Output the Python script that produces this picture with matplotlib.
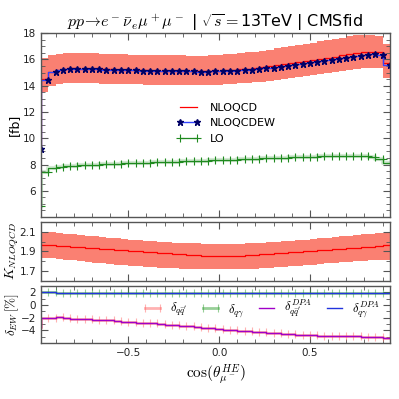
import matplotlib
matplotlib.use("Agg")
import matplotlib.pyplot as plt
from matplotlib.ticker import MultipleLocator

plt.rcParams["mathtext.fontset"] = "cm"
plt.rcParams["font.family"] = "DejaVu Sans"

# bin edges of cos(theta), step width 0.04
cos_theta = [-0.98, -0.94, -0.90, -0.86, -0.82, -0.78, -0.74, -0.70, -0.66, -0.62,
             -0.58, -0.54, -0.50, -0.46, -0.42, -0.38, -0.34, -0.30, -0.26, -0.22,
             -0.18, -0.14, -0.10, -0.06, -0.02, 0.02, 0.06, 0.10, 0.14, 0.18,
             0.22, 0.26, 0.30, 0.34, 0.38, 0.42, 0.46, 0.50, 0.54, 0.58,
             0.62, 0.66, 0.70, 0.74, 0.78, 0.82, 0.86, 0.90, 0.94]

nloqcdew = [9.2, 14.45, 15.05, 15.2, 15.28, 15.3, 15.28, 15.27, 15.25, 15.23,
            15.22, 15.2, 15.18, 15.17, 15.15, 15.14, 15.13, 15.12, 15.1, 15.1,
            15.09, 15.08, 15.07, 15.07, 15.08, 15.1, 15.12, 15.15, 15.18, 15.22,
            15.27, 15.32, 15.38, 15.44, 15.5, 15.57, 15.64, 15.71, 15.78, 15.86,
            15.94, 16.02, 16.1, 16.18, 16.26, 16.33, 16.38, 16.35, 15.6]

nloqcd = [9.3, 14.5, 15.07, 15.22, 15.3, 15.32, 15.3, 15.29, 15.27, 15.25,
          15.24, 15.22, 15.2, 15.19, 15.17, 15.16, 15.15, 15.14, 15.12, 15.12,
          15.12, 15.11, 15.1, 15.1, 15.12, 15.14, 15.17, 15.21, 15.25, 15.3,
          15.36, 15.42, 15.49, 15.56, 15.64, 15.72, 15.8, 15.88, 15.96, 16.05,
          16.14, 16.22, 16.31, 16.4, 16.48, 16.55, 16.6, 16.56, 15.7]

nloqcd_lo = [8.3, 13.5, 14.0, 14.15, 14.2, 14.22, 14.2, 14.2, 14.18, 14.16,
             14.15, 14.13, 14.12, 14.1, 14.09, 14.08, 14.07, 14.06, 14.05, 14.05,
             14.05, 14.04, 14.04, 14.04, 14.05, 14.07, 14.1, 14.13, 14.17, 14.21,
             14.26, 14.31, 14.37, 14.43, 14.5, 14.57, 14.64, 14.71, 14.78, 14.86,
             14.94, 15.02, 15.1, 15.18, 15.25, 15.31, 15.36, 15.32, 14.6]

nloqcd_hi = [10.4, 16.1, 16.3, 16.42, 16.48, 16.5, 16.48, 16.47, 16.45, 16.43,
             16.42, 16.4, 16.38, 16.37, 16.35, 16.34, 16.33, 16.32, 16.3, 16.3,
             16.3, 16.29, 16.29, 16.29, 16.31, 16.34, 16.38, 16.42, 16.47, 16.53,
             16.6, 16.67, 16.75, 16.83, 16.92, 17.01, 17.1, 17.19, 17.28, 17.38,
             17.48, 17.57, 17.66, 17.75, 17.82, 17.86, 17.88, 17.8, 17.2]

lo = [4.85, 7.45, 7.7, 7.8, 7.87, 7.92, 7.95, 7.98, 8.0, 8.02,
      8.04, 8.06, 8.08, 8.1, 8.12, 8.14, 8.16, 8.18, 8.2, 8.22,
      8.24, 8.26, 8.28, 8.3, 8.32, 8.34, 8.36, 8.38, 8.4, 8.42,
      8.44, 8.46, 8.48, 8.5, 8.52, 8.54, 8.56, 8.58, 8.6, 8.61,
      8.62, 8.63, 8.64, 8.64, 8.64, 8.63, 8.6, 8.45, 8.1]

k_nloqcd = [1.97, 1.965, 1.96, 1.955, 1.95, 1.945, 1.94, 1.935, 1.93, 1.925,
            1.92, 1.915, 1.91, 1.905, 1.90, 1.895, 1.89, 1.885, 1.88, 1.875,
            1.87, 1.865, 1.86, 1.855, 1.852, 1.85, 1.85, 1.852, 1.855, 1.86,
            1.865, 1.87, 1.875, 1.88, 1.885, 1.89, 1.895, 1.90, 1.905, 1.91,
            1.915, 1.92, 1.925, 1.93, 1.935, 1.94, 1.945, 1.955, 1.96]

k_lo = [1.84, 1.835, 1.83, 1.822, 1.815, 1.808, 1.8, 1.793, 1.786, 1.779,
        1.772, 1.766, 1.76, 1.754, 1.748, 1.743, 1.738, 1.734, 1.73, 1.727,
        1.724, 1.722, 1.72, 1.718, 1.717, 1.716, 1.716, 1.717, 1.719, 1.722,
        1.725, 1.729, 1.733, 1.738, 1.743, 1.748, 1.754, 1.76, 1.766, 1.772,
        1.778, 1.784, 1.79, 1.795, 1.8, 1.805, 1.81, 1.815, 1.815]

k_hi = [2.1, 2.1, 2.095, 2.088, 2.08, 2.073, 2.066, 2.059, 2.052, 2.045,
        2.038, 2.031, 2.025, 2.019, 2.013, 2.007, 2.002, 1.997, 1.993, 1.989,
        1.986, 1.983, 1.98, 1.978, 1.977, 1.976, 1.976, 1.977, 1.979, 1.982,
        1.985, 1.989, 1.993, 1.998, 2.003, 2.008, 2.014, 2.02, 2.026, 2.032,
        2.039, 2.046, 2.053, 2.06, 2.067, 2.074, 2.08, 2.087, 2.09]

d_qq = [-3.5, -2.1, -2.0, -1.9, -2.1, -2.15, -2.2, -2.2, -2.3, -2.35,
        -2.4, -2.5, -2.6, -2.65, -2.75, -2.8, -2.9, -3.0, -3.1, -3.15,
        -3.25, -3.35, -3.45, -3.6, -3.55, -3.8, -3.85, -3.95, -4.05, -4.1,
        -4.2, -4.25, -4.35, -4.45, -4.5, -4.6, -4.65, -4.7, -4.75, -4.8,
        -4.8, -4.85, -4.95, -4.9, -4.95, -5.0, -5.0, -5.0, -5.2]

d_qgam = [2.0, 2.0, 2.0, 1.98, 1.98, 1.97, 1.97, 1.96, 1.96, 1.95,
          1.95, 1.95, 1.94, 1.94, 1.93, 1.93, 1.93, 1.92, 1.92, 1.92,
          1.91, 1.91, 1.91, 1.9, 1.9, 1.9, 1.9, 1.9, 1.9, 1.9,
          1.9, 1.9, 1.9, 1.9, 1.9, 1.9, 1.9, 1.9, 1.9, 1.9,
          1.9, 1.9, 1.9, 1.9, 1.9, 1.9, 1.9, 1.9, 1.9]

spine_col = "#555555"


def style_axis(ax):
    for s in ax.spines.values():
        s.set_color(spine_col)
        s.set_linewidth(1.0)
    ax.tick_params(which="both", direction="in", top=True, right=True,
                   colors=spine_col, labelcolor="#222222", labelsize=7.5)
    ax.tick_params(which="major", length=5)
    ax.tick_params(which="minor", length=3)
    ax.xaxis.set_major_locator(MultipleLocator(0.5))
    ax.xaxis.set_minor_locator(MultipleLocator(0.1))
    ax.set_xlim(-0.98, 0.94)


fig = plt.figure(figsize=(3.99, 3.99), dpi=100)
ax1 = fig.add_axes([0.103, 0.456, 0.874, 0.461])
ax2 = fig.add_axes([0.103, 0.296, 0.874, 0.148])
ax3 = fig.add_axes([0.103, 0.140, 0.874, 0.143])

# top panel: cross sections
ax1.fill_between(cos_theta, nloqcd_lo, nloqcd_hi, step="pre", color="salmon",
                 linewidth=0)
ax1.step(cos_theta, nloqcd, where="pre", color="red", linewidth=0.9,
         label="NLOQCD")
ax1.step(cos_theta, nloqcdew, where="pre", color="#3344ff", linewidth=1.0,
         marker="*", markersize=5, markerfacecolor="#000066",
         markeredgecolor="#000066", label="NLOQCDEW")
ax1.step(cos_theta, lo, where="pre", color="#aad4aa", linewidth=3, alpha=0.5)
ax1.step(cos_theta, lo, where="pre", color="#1f8a1f", linewidth=0.9,
         marker="+", markersize=6, markeredgewidth=0.8, label="LO")
style_axis(ax1)
ax1.set_ylim(4, 18)
ax1.yaxis.set_minor_locator(MultipleLocator(0.5))
ax1.set_yticks([6, 8, 10, 12, 14, 16, 18])
ax1.tick_params(labelbottom=False)
ax1.set_ylabel("[fb]", fontsize=9)
ax1.legend(loc="center", bbox_to_anchor=(0.53, 0.51), frameon=False,
           fontsize=8, numpoints=2, handlelength=2.2)
ax1.set_title(r"$pp\!\to\! e^-\bar{\nu}_e\mu^+\mu^-$ | $\sqrt{s}=$13TeV | CMSfid",
              fontsize=11.5, pad=4)

# middle panel: K-factor
ax2.fill_between(cos_theta, k_lo, k_hi, step="pre", color="salmon",
                 linewidth=0)
ax2.step(cos_theta, k_nloqcd, where="pre", color="red", linewidth=0.9)
style_axis(ax2)
ax2.set_ylim(1.6, 2.2)
ax2.set_yticks([1.7, 1.9, 2.1])
ax2.yaxis.set_minor_locator(MultipleLocator(0.1))
ax2.tick_params(labelbottom=False)
ax2.set_ylabel(r"$K_{NLOQCD}$", fontsize=10)

# bottom panel: EW corrections
ax3.step(cos_theta, d_qq, where="pre", color="#ff6666", linewidth=2,
         alpha=0.5, marker="|", markersize=6, markeredgewidth=0.8,
         label=r"$\delta_{q\bar{q}'}$")
ax3.step(cos_theta, d_qgam, where="pre", color="#33a033", linewidth=2,
         alpha=0.5, marker="|", markersize=6, markeredgewidth=0.8,
         label=r"$\delta_{q\gamma}$")
ax3.step(cos_theta, d_qq, where="pre", color="#a000c8", linewidth=1.0,
         label=r"$\delta_{q\bar{q}'}^{DPA}$")
ax3.step(cos_theta, d_qgam, where="pre", color="#2233dd", linewidth=1.0,
         label=r"$\delta_{q\gamma}^{DPA}$")
style_axis(ax3)
ax3.set_ylim(-6, 3)
ax3.set_yticks([-4, -2, 0, 2])
ax3.yaxis.set_minor_locator(MultipleLocator(1))
ax3.set_xticks([-0.5, 0.0, 0.5])
ax3.set_xticklabels(["\u22120.5", "0.0", "0.5"])
ax3.set_ylabel(r"$\delta_{EW}\,[\%]$", fontsize=9.5)
ax3.set_xlabel(r"$\cos(\theta_{\mu^-}^{HE})$", fontsize=11, labelpad=3)
ax3.legend(loc="center", bbox_to_anchor=(0.63, 0.6), frameon=False,
           fontsize=9, ncol=4, numpoints=2, handlelength=1.8,
           columnspacing=0.9, handletextpad=0.5)

# y labels share one x position, right edge about 20 px from the left
for ax in (ax1, ax2, ax3):
    ax.yaxis.set_label_coords(-0.058, 0.5)

fig.savefig("out.png", dpi=100)
